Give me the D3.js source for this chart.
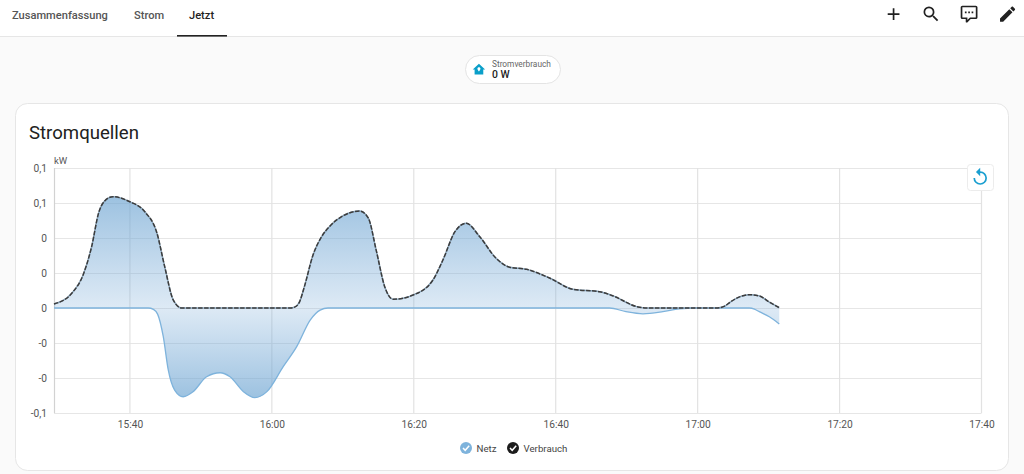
<!DOCTYPE html>
<html lang="de">
<head>
<meta charset="utf-8">
<title>Stromquellen</title>
<script src="https://cdn.jsdelivr.net/npm/d3@7"></script>
<style>
  html, body { margin: 0; padding: 0; background: #fafafa; overflow: hidden; }
  svg { display: block; font-family: Roboto, sans-serif; }
  .axis path, .axis line { display: none; }
  .axis text { font-family: Roboto, sans-serif; font-size: 10.2px; fill: #555; }
</style>
</head>
<body>
<svg id="page" width="1024" height="474"></svg>
<script>
// Sampled readings: minutes after 15:00 and power in kW
const verbrauchMinutes = [29.3, 31.8, 33.4, 34.6, 35.6, 36.4, 37.6, 40, 42.1, 43.8, 44.9, 46.1, 47.3, 62.6, 63.2, 63.9, 64.6, 65.8, 67, 68.2, 70, 72.4, 73.6, 74.7, 75.9, 77.1, 79.9, 82.7, 84.1, 85.8, 87.4, 89.3, 91.6, 93.5, 95.9, 99.2, 102.4, 106.2, 108.1, 111.4, 112.8, 122.6, 123.4, 124, 124.5, 126, 127.3, 128.7, 130.1, 131.5];
const verbrauchKw = [0.0023, 0.0084, 0.0189, 0.035, 0.0545, 0.061, 0.0636, 0.0607, 0.055, 0.0429, 0.0236, 0.0046, 0, 0, 0.0005, 0.0035, 0.0122, 0.0303, 0.0407, 0.0469, 0.0526, 0.0554, 0.0513, 0.0331, 0.0122, 0.005, 0.0074, 0.016, 0.0274, 0.0436, 0.0484, 0.0407, 0.0284, 0.0233, 0.0221, 0.017, 0.0107, 0.0093, 0.0069, 0.0008, 0, 0, 0.0004, 0.0015, 0.0031, 0.0065, 0.0076, 0.0069, 0.0034, 0.0002];
const netzMinutes = [29.3, 42.6, 43.3, 43.9, 44.7, 45.4, 46.3, 47.5, 48.9, 50.8, 52.7, 54.1, 56, 57.6, 59.3, 61.6, 63.5, 65.4, 66.8, 67.9, 107.6, 109.9, 112.3, 115.1, 117.4, 119.8, 127.3, 128, 128.7, 130.1, 131.5];
const netzKw = [0, 0, -0.0008, -0.0035, -0.0164, -0.0354, -0.0469, -0.0507, -0.0478, -0.0393, -0.037, -0.0393, -0.0478, -0.0512, -0.0478, -0.0335, -0.0221, -0.0069, -0.0012, 0, 0, -0.0021, -0.0033, -0.0021, -0.0005, 0, 0, -0.0006, -0.0021, -0.005, -0.0091];

const yTickValues = [0.08, 0.06, 0.04, 0.02, 0, -0.02, -0.04, -0.06];
const yTickLabels = ["0,1", "0,1", "0", "0", "0", "-0", "-0", "-0,1"];
const xTickMinutes = [40, 60, 80, 100, 120, 140, 160];
const tabLabels = ["Zusammenfassung", "Strom", "Jetzt"];
const legendLabels = ["Netz", "Verbrauch"];

const minuteToDate = m => new Date(2024, 0, 1, 15, 0, m * 60);
const zip = (ms, vs) => ms.map((m, i) => ({ t: minuteToDate(m), v: vs[i] }));
const verbrauch = zip(verbrauchMinutes, verbrauchKw);
const netz = zip(netzMinutes, netzKw);

const svg = d3.select("#page");
const BLUE = "#7eb3dc", INK = "#212121";

// Top bar with tabs
svg.append("rect").attr("width", 1024).attr("height", 36).attr("fill", "#fff");
svg.append("rect").attr("y", 36).attr("width", 1024).attr("height", 1).attr("fill", "#e6e6e6");
const tabX = [12, 134, 189];
svg.selectAll(".tab").data(tabLabels).join("text")
  .attr("x", (d, i) => tabX[i]).attr("y", 19)
  .attr("font-size", 11.1).attr("font-weight", 500)
  .attr("fill", (d, i) => i === 2 ? "#222" : "#555")
  .text(d => d);
svg.append("rect").attr("x", 177).attr("y", 35).attr("width", 50).attr("height", 1.6).attr("fill", "#222");

// Toolbar icons (Material Design glyphs on a 24-unit grid)
const toolbarIcons = [
  [883.5, "M19,13H13V19H11V13H5V11H11V5H13V11H19V13Z"],
  [921, "M9.5,3A6.5,6.5 0 0,1 16,9.5C16,11.11 15.41,12.59 14.44,13.73L14.71,14H15.5L20.5,19L19,20.5L14,15.5V14.71L13.73,14.44C12.59,15.41 11.11,16 9.5,16A6.5,6.5 0 0,1 3,9.5A6.5,6.5 0 0,1 9.5,3M9.5,5C7,5 5,7 5,9.5C5,12 7,14 9.5,14C12,14 14,12 14,9.5C14,7 12,5 9.5,5Z"],
  [959, "M9,22A1,1 0 0,1 8,21V18H4A2,2 0 0,1 2,16V4C2,2.89 2.9,2 4,2H20A2,2 0 0,1 22,4V16A2,2 0 0,1 20,18H13.9L10.2,21.71C10,21.9 9.75,22 9.5,22V22H9M10,16V19.08L13.08,16H20V4H4V16H10M17,11H15V9H17V11M13,11H11V9H13V11M9,11H7V9H9V11Z"],
  [997.5, "M20.71,7.04C21.1,6.65 21.1,6 20.71,5.63L18.37,3.29C18,2.9 17.35,2.9 16.96,3.29L15.12,5.12L18.87,8.87M3,17.25V21H6.75L17.81,9.93L14.06,6.18L3,17.25Z"]
];
svg.selectAll(".tool").data(toolbarIcons).join("path")
  .attr("transform", d => `translate(${d[0]},4) scale(0.84)`)
  .attr("d", d => d[1]).attr("fill", INK);

// Consumption chip
svg.append("rect").attr("x", 465.5).attr("y", 55.5).attr("width", 95).attr("height", 28).attr("rx", 14)
  .attr("fill", "#fff").attr("stroke", "#e4e4e4");
svg.append("path").attr("transform", "translate(471.5,62) scale(0.62)")
  .attr("d", "M12,3L2,12H5V20H19V12H22L12,3M12,8.5C13.4,8.5 14.5,9.6 14.5,11C14.5,12.4 12,15.5 12,15.5C12,15.5 9.5,12.4 9.5,11C9.5,9.6 10.6,8.5 12,8.5Z")
  .attr("fill", "#0a9fc9");
svg.append("text").attr("x", 492).attr("y", 66.5).attr("font-size", 8.3).attr("fill", "#666").text("Stromverbrauch");
svg.append("text").attr("x", 492).attr("y", 77.5).attr("font-size", 10.4).attr("font-weight", 500).attr("fill", "#222").text("0 W");

// Chart card
svg.append("rect").attr("x", 15.5).attr("y", 103.5).attr("width", 993).attr("height", 367).attr("rx", 12)
  .attr("fill", "#fff").attr("stroke", "#e6e6e6");
svg.append("text").attr("x", 29).attr("y", 139).attr("font-size", 18.6).attr("fill", "#212121").text("Stromquellen");

// Scales
const x = d3.scaleTime().domain([minuteToDate(29.3), minuteToDate(160)]).range([54, 981.5]);
const y = d3.scaleLinear().domain([-0.06, 0.08]).range([413, 168]);

// Gridlines
svg.append("g").selectAll("line").data(yTickValues).join("line")
  .attr("x1", 54).attr("x2", 981.5).attr("y1", d => y(d) + 0.5).attr("y2", d => y(d) + 0.5)
  .attr("stroke", "#e6e6e6").attr("stroke-width", 1.2);
svg.append("g").selectAll("line").data(xTickMinutes).join("line")
  .attr("x1", d => x(minuteToDate(d))).attr("x2", d => x(minuteToDate(d)))
  .attr("y1", 168).attr("y2", 413).attr("stroke", "#e2e2e2").attr("stroke-width", 1.2);
svg.append("line").attr("x1", 54.5).attr("x2", 54.5).attr("y1", 168).attr("y2", 413).attr("stroke", "#d2d2d2").attr("stroke-width", 1.2);

// Axes
svg.append("g").attr("class", "axis").attr("transform", "translate(54,0)")
  .call(d3.axisLeft(y).tickValues(yTickValues).tickSize(0).tickPadding(7)
    .tickFormat((d, i) => yTickLabels[i]));
svg.append("g").attr("class", "axis").attr("transform", "translate(0,413)")
  .call(d3.axisBottom(x).tickValues(xTickMinutes.map(minuteToDate)).tickSize(0).tickPadding(8)
    .tickFormat(d3.timeFormat("%H:%M")));
svg.append("text").attr("x", 54).attr("y", 164).attr("font-size", 9.5).attr("fill", "#555").text("kW");

// Translucent gradients fade towards the zero line on both sides
const defs = svg.append("defs");
function gradient(id, vFrom, vTo) {
  const g = defs.append("linearGradient").attr("id", id).attr("gradientUnits", "userSpaceOnUse")
    .attr("x1", 0).attr("x2", 0).attr("y1", y(vFrom)).attr("y2", y(vTo));
  g.append("stop").attr("offset", 0).attr("stop-color", "#6ea5d2").attr("stop-opacity", 0.68);
  g.append("stop").attr("offset", 1).attr("stop-color", "#78aad7").attr("stop-opacity", 0.25);
}
gradient("gradUp", 0.0636, 0);
gradient("gradDown", -0.0512, 0);

const area = d3.area().x(d => x(d.t)).y0(y(0)).y1(d => y(d.v)).curve(d3.curveMonotoneX);
const line = d3.line().x(d => x(d.t)).y(d => y(d.v)).curve(d3.curveMonotoneX);

svg.append("path").attr("d", area(verbrauch)).attr("fill", "url(#gradUp)");
svg.append("path").attr("d", area(netz)).attr("fill", "url(#gradDown)");
svg.append("path").attr("d", line(netz)).attr("fill", "none").attr("stroke", BLUE).attr("stroke-width", 1.3);
svg.append("path").attr("d", line(verbrauch)).attr("fill", "none").attr("stroke", "#8aa6bd").attr("stroke-width", 1.4);
svg.append("path").attr("d", line(verbrauch)).attr("fill", "none").attr("stroke", "#3c3c3c")
  .attr("stroke-width", 1.5).attr("stroke-dasharray", "4.5 1.5");

// Reset-zoom button
svg.append("rect").attr("x", 967.5).attr("y", 164.5).attr("width", 26).attr("height", 26).attr("rx", 3)
  .attr("fill", "#fff").attr("stroke", "#ececec");
svg.append("path").attr("transform", "translate(970,167) scale(0.85)")
  .attr("d", "M12,5V1L7,6L12,11V7A6,6 0 0,1 18,13A6,6 0 0,1 12,19A6,6 0 0,1 6,13H4A8,8 0 0,0 12,21A8,8 0 0,0 20,13A8,8 0 0,0 12,5Z")
  .attr("fill", "#1a9fd0");

// Legend
const legendCx = [466, 513], legendFill = [BLUE, "#1c1c1c"];
const legend = svg.selectAll(".leg").data(legendLabels).join("g")
  .attr("transform", (d, i) => `translate(${legendCx[i]},448)`);
legend.append("circle").attr("r", 6).attr("fill", (d, i) => legendFill[i]);
legend.append("path").attr("d", "M-3,0 L-0.8,2.3 L3.2,-2.2").attr("fill", "none").attr("stroke", "#fff").attr("stroke-width", 1.5);
legend.append("text").attr("x", 10.5).attr("y", 3.6).attr("font-size", 9.7).attr("fill", "#444").text(d => d);
</script>
</body>
</html>
